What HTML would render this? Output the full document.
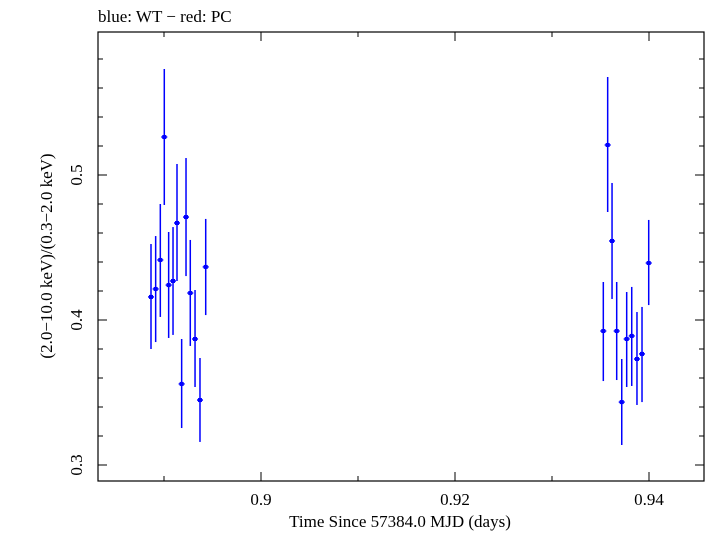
<!DOCTYPE html>
<html><head><meta charset="utf-8"><style>
body{margin:0;background:#fff}
svg text{font-family:"Liberation Serif",serif;fill:#000}
</style></head><body>
<svg id="c" width="705" height="532" xmlns="http://www.w3.org/2000/svg">
<text x="98" y="22" font-size="17">blue: WT − red: PC</text>
<rect x="98" y="32" width="606" height="449" fill="none" stroke="#000" stroke-width="1.2"/>
<g id="ticks"></g>
<g id="marks"></g>
<text x="400" y="527" font-size="17" text-anchor="middle">Time Since 57384.0 MJD (days)</text>
<text transform="translate(52,256) rotate(-90)" font-size="17" text-anchor="middle">(2.0−10.0 keV)/(0.3−2.0 keV)</text>
</svg>
<script>
const times=[0.88866,0.88914,0.88962,0.89003,0.89048,0.89093,0.89134,0.89182,0.89227,0.89271,0.89320,0.89371,0.89430,
0.93529,0.93574,0.93619,0.93667,0.93719,0.93770,0.93822,0.93876,0.93928,0.93997];
const ratios=[0.4159,0.4214,0.4414,0.5262,0.4241,0.4269,0.4669,0.3559,0.4710,0.4186,0.3869,0.3448,0.4366,
0.3924,0.5207,0.4545,0.3924,0.3434,0.3869,0.3890,0.3731,0.3766,0.4393];
const upper=[0.4524,0.4579,0.4800,0.5731,0.4607,0.4641,0.5076,0.3869,0.5117,0.4552,0.4207,0.3738,0.4697,
0.4262,0.5676,0.4945,0.4262,0.3731,0.4193,0.4228,0.4055,0.4090,0.4690];
const lower=[0.3800,0.3848,0.4021,0.4793,0.3876,0.3897,0.4269,0.3255,0.4303,0.3821,0.3538,0.3159,0.4034,
0.3579,0.4745,0.4145,0.3586,0.3138,0.3538,0.3545,0.3414,0.3434,0.4103];
const xTicks=[0.9,0.92,0.94];
const yTicks=[0.3,0.4,0.5];
const X0=98,X1=704,Y0=32,Y1=481;
const xs=t=>261+(t-0.9)*9700;
const ys=v=>465-(v-0.3)*1450;
const NS="http://www.w3.org/2000/svg";
function mk(tag,attrs,parent){const e=document.createElementNS(NS,tag);for(const k in attrs)e.setAttribute(k,attrs[k]);parent.appendChild(e);return e;}
const tg=document.getElementById('ticks');
for(let i=0;i<10;i++){const t=0.88+i*0.01;const x=xs(t);if(x>X1)break;if(x<X0)continue;
 const major=(i%2===0);
 const L=major?9:5;
 const a=mk('line',{x1:x,x2:x,y1:Y1,y2:Y1-L,stroke:'#000'},tg);
 
 
 const b=mk('line',{x1:x,x2:x,y1:Y0,y2:Y0+L,stroke:'#000'},tg);
 
 }
for(let i=0;i<30;i++){const v=0.28+i*0.02;const y=ys(v);if(y<Y0)break;if(y>Y1)continue;
 const major=Math.abs(v*10-Math.round(v*10))<0.001;const L=major?9:5;
 const a=mk('line',{x1:X0,x2:X0+L,y1:y,y2:y,stroke:'#000'},tg);
 
 
 const b=mk('line',{x1:X1,x2:X1-L,y1:y,y2:y,stroke:'#000'},tg);
 
 }
xTicks.forEach(t=>{const e=mk('text',{x:xs(t),y:505,'font-size':17,'text-anchor':'middle'},tg);e.textContent=String(t);
 
 });
yTicks.forEach(v=>{const e=mk('text',{transform:`translate(82,${ys(v)}) rotate(-90)`,'font-size':17,'text-anchor':'middle'},tg);e.textContent=String(v);
 
 });
const mg=document.getElementById('marks');
times.forEach((t,i)=>{const x=xs(t),y=ys(ratios[i]);
 const l=mk('line',{x1:x,x2:x,y1:ys(upper[i]),y2:ys(lower[i]),stroke:'#0000ff','stroke-width':1.5},mg);
 
 
 const h=mk('line',{x1:x-3,x2:x+3,y1:y,y2:y,stroke:'#0000ff','stroke-width':1.5},mg);
 
 
 const p=mk('rect',{x:x-2,y:y-2,width:4,height:4,fill:'#0000ff'},mg);
 
 });
</script>
</body></html>
